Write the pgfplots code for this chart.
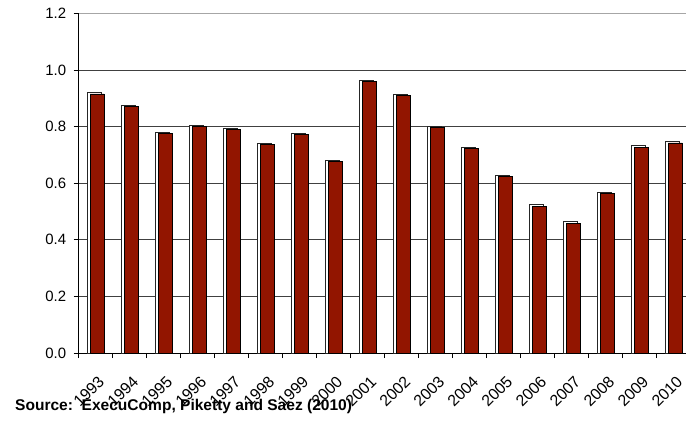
\documentclass[border=0pt]{standalone}
\usepackage{pgfplots}
\pgfplotsset{compat=1.18}
\usepackage{fontspec}
\setmainfont{Liberation Sans}
\definecolor{barred}{HTML}{921500}
\begin{document}
\begin{tikzpicture}[x=1bp,y=1bp]
\path[use as bounding box] (0,0) rectangle (686,420);
\begin{axis}[
  at={(78.7bp,67bp)}, anchor=south west,
  scale only axis,
  width=607.3bp, height=339.7bp,
  xmin=-0.5, xmax=17.36,
  ymin=0, ymax=1.2,
  axis x line*=bottom, axis y line*=left,
  x axis line style={-}, y axis line style={-},
  axis line style={black, line width=0.8bp},
  ytick={0,0.2,...,1.0},
  extra y ticks={1.2},
  extra y tick style={grid style={black!35, line width=0.8bp}},
  yticklabel style={/pgf/number format/fixed,/pgf/number format/fixed zerofill,/pgf/number format/precision=1, font=\fontsize{15}{17}\selectfont, xshift=-4bp},
  /pgf/number format/assume math mode=true,
  ymajorgrids, grid style={black!75, line width=0.8bp},
  xtick={0,...,17},
  xticklabels={1993,1994,1995,1996,1997,1998,1999,2000,2001,2002,2003,2004,2005,2006,2007,2008,2009,2010},
  major x tick style={draw=none},
  minor xtick={-0.5,0.5,...,17.5},
  minor tick length=5bp,
  tick align=outside,
  major tick length=5bp,
  tick style={black, line width=0.8bp},
  xticklabel style={rotate=45, anchor=north east, font=\fontsize{16}{18}\selectfont, xshift=-9.6bp, yshift=-12bp, inner sep=1bp},
  ybar, bar width=14bp,
  clip=false,
]
\addplot[draw=black!85, fill=white, line width=0.8bp, bar shift=-1.5bp] coordinates {
(0,0.919) (1,0.876) (2,0.781) (3,0.805) (4,0.793) (5,0.742) (6,0.777) (7,0.680) (8,0.963)
(9,0.915) (10,0.800) (11,0.728) (12,0.628) (13,0.525) (14,0.465) (15,0.568) (16,0.732) (17,0.747)};
\addplot[draw=black, fill=barred, line width=0.8bp, bar shift=1.5bp] coordinates {
(0,0.915) (1,0.872) (2,0.777) (3,0.801) (4,0.789) (5,0.738) (6,0.773) (7,0.676) (8,0.959)
(9,0.911) (10,0.796) (11,0.723) (12,0.623) (13,0.519) (14,0.459) (15,0.563) (16,0.727) (17,0.742)};
\end{axis}
\node[anchor=base west, font=\bfseries\fontsize{15.6}{17}\selectfont, inner sep=0] at (15,10) {Source:\ \ ExecuComp, Piketty and Saez (2010)};
\end{tikzpicture}
\end{document}
